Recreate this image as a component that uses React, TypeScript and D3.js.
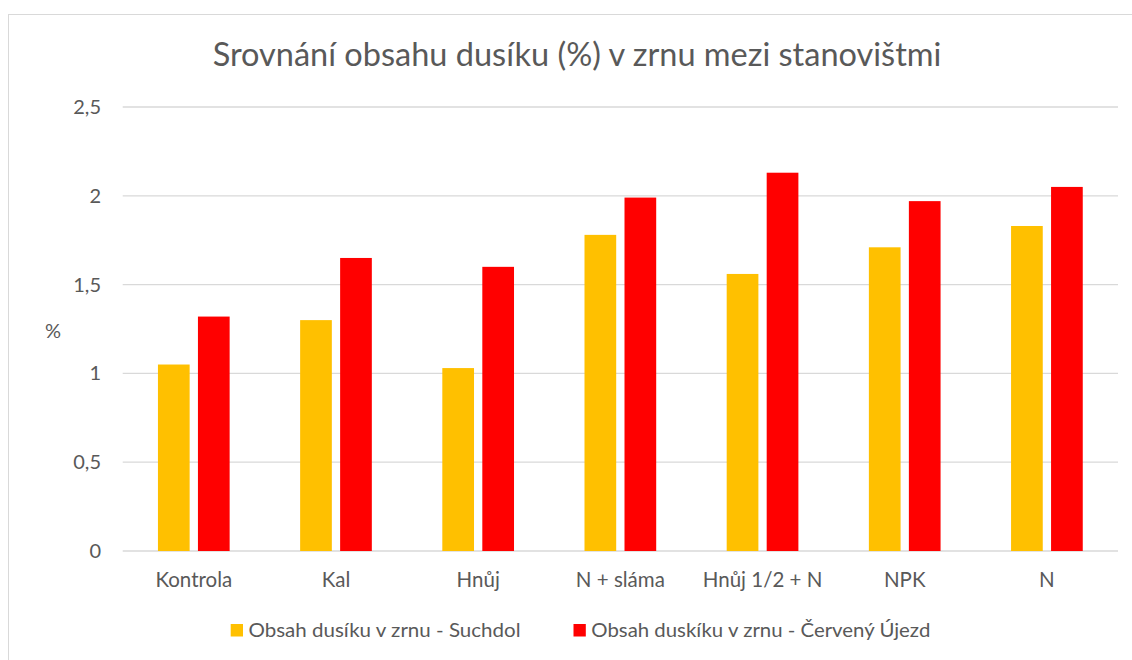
import React from "react";
import * as d3 from "d3";

const categories = ["Kontrola", "Kal", "Hnůj", "N + sláma", "Hnůj 1/2 + N", "NPK", "N"];
const suchdol = [1.05, 1.3, 1.03, 1.78, 1.56, 1.71, 1.83];
const cervenyUjezd = [1.32, 1.65, 1.6, 1.99, 2.13, 1.97, 2.05];
const yTicks = [0, 0.5, 1, 1.5, 2, 2.5];
const seriesNames = ["Obsah dusíku v zrnu - Suchdol", "Obsah duskíku v zrnu - Červený Újezd"];
const seriesColors = ["#FFC000", "#FF0000"];

const W = 1132;
const H = 660;
const FONT = "Lato, 'Open Sans', sans-serif";
const TEXT = "#595959";

export default function App() {
  const left = 122.7;
  const right = 1118;
  const top = 107;
  const bottom = 551;
  const x = d3.scaleBand<string>().domain(categories).range([left, right]).paddingInner(0).paddingOuter(0);
  const y = d3.scaleLinear().domain([0, 2.5]).range([bottom, top]);
  const bw = 31.7;
  const gap = 8.3;
  const series = [suchdol, cervenyUjezd];
  const fmt = (v: number) => String(v).replace(".", ",");
  const legendX = [230.7, 573.5];
  const legendLen = [272, 339];

  return (
    <svg width={W} height={H} style={{ position: "absolute", left: 0, top: 0, background: "#fff" }}>
      <rect x={8.5} y={14.5} width={W} height={H} fill="#fff" stroke="#d9d9d9" strokeWidth={1} />
      <text x={577} y={66} textAnchor="middle" fontFamily={FONT} fontSize={32.5} fill={TEXT}>
        Srovnání obsahu dusíku (%) v zrnu mezi stanovištmi
      </text>
      {yTicks.map((t) => (
        <g key={t}>
          <line x1={left} x2={right} y1={y(t)} y2={y(t)} stroke="#d9d9d9" strokeWidth={1.3} />
          <text x={101} y={y(t) + 7} textAnchor="end" fontFamily={FONT} fontSize={20} fill={TEXT}>
            {fmt(t)}
          </text>
        </g>
      ))}
      <text x={53} y={338} textAnchor="middle" fontFamily={FONT} fontSize={20} fill={TEXT}>%</text>
      {categories.map((c, i) => {
        const cx = (x(c) as number) + x.bandwidth() / 2;
        return (
          <g key={c}>
            {series.map((s, k) => {
              const bx = k === 0 ? cx - gap / 2 - bw : cx + gap / 2;
              return (
                <rect key={k} x={bx} y={y(s[i])} width={bw} height={y(0) - y(s[i])} fill={seriesColors[k]} />
              );
            })}
            <text x={cx} y={587} textAnchor="middle" fontFamily={FONT} fontSize={20.5} fill={TEXT}>
              {c}
            </text>
          </g>
        );
      })}
      {seriesNames.map((n, k) => {
        const lx = legendX[k];
        return (
          <g key={n}>
            <rect x={lx} y={624} width={12.3} height={12.5} fill={seriesColors[k]} />
            <text
              x={lx + 17.8}
              y={636.7}
              fontFamily={FONT}
              fontSize={20}
              fill={TEXT}
              textLength={legendLen[k]}
              lengthAdjust="spacingAndGlyphs"
            >
              {n}
            </text>
          </g>
        );
      })}
    </svg>
  );
}
